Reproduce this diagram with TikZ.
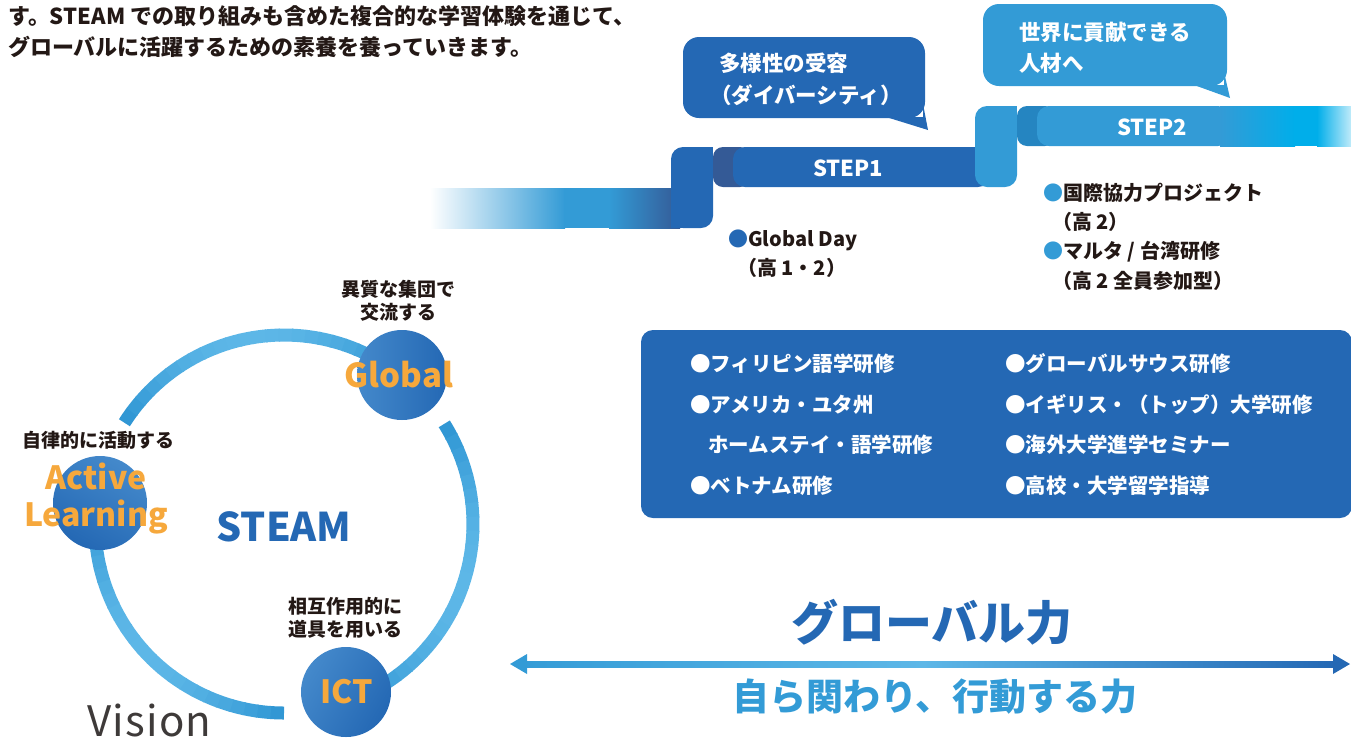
\documentclass[tikz,border=0pt]{standalone}
\usepackage{fontspec}
\setmainfont{Noto Sans CJK JP}
\usetikzlibrary{positioning}
\definecolor{stepdark}{HTML}{2468B4}
\definecolor{steplight}{HTML}{339BD6}
\definecolor{foldone}{HTML}{345A96}
\definecolor{foldtwo}{HTML}{2585C1}
\definecolor{cyanend}{HTML}{00AEEA}
\definecolor{ringlight}{HTML}{5DB7E7}
\definecolor{ringdark}{HTML}{2E95D3}
\definecolor{badgelight}{HTML}{4489CB}
\definecolor{orangetxt}{HTML}{F6A83C}
\definecolor{inktxt}{HTML}{231815}
\definecolor{visiontxt}{HTML}{3E3A39}
\pgfdeclarehorizontalshading{shaftshade}{100bp}{color(0bp)=(steplight); color(25bp)=(steplight); color(50bp)=(ringlight); color(75bp)=(stepdark); color(100bp)=(stepdark)}
\begin{document}
\begin{tikzpicture}[x=1pt,y=-1pt,
		textbox/.style={inner sep=0pt,anchor=west},
		steptxt/.style={inner sep=0pt,text=white,font=\myfontstep},
		badge/.style={circle,inner sep=0pt,left color=badgelight,right color=stepdark},
		badgetxt/.style={inner sep=0pt,text=orangetxt,align=center},
		caption/.style={inner sep=0pt,text=inktxt,align=center,font=\myfontcaption}]
		\newcommand{\myfonthead}{\fontsize{22}{26}\selectfont\bfseries}
		\newcommand{\myfontbubble}{\fontsize{21.5}{26}\selectfont\bfseries}
		\newcommand{\myfontstep}{\fontsize{22}{26}\selectfont\bfseries}
		\newcommand{\myfontitem}{\fontsize{20}{24}\selectfont\bfseries}
		\newcommand{\myfontbox}{\fontsize{20.5}{24}\selectfont\bfseries}
		\newcommand{\myfontcaption}{\fontsize{19}{23}\selectfont\bfseries}
		\useasboundingbox (0,0) rectangle (1351,740);
		%Intro text at the top
		\node[textbox,text=inktxt,font=\myfonthead] (intro1) at (8,16) {す。STEAM での取り組みも含めた複合的な学習体験を通じて、};
		\node[textbox,text=inktxt,font=\myfonthead] (intro2) at (8,47) {グローバルに活躍するための素養を養っていきます。};
		%The stairs ribbon
		\shade[left color=white,right color=steplight] (430,188) rectangle (565,228);
		\fill[steplight] (564,188) rectangle (610,228);
		\shade[left color=steplight,right color=foldone] (609,188) rectangle (680,228);
		%Riser and band of step 1
		\fill[stepdark,rounded corners=12] (671,147) rectangle (713,228);
		\fill[stepdark] (690,147) rectangle (713,170);
		\fill[stepdark] (671,205) rectangle (690,228);
		\fill[foldone,rounded corners=10] (713,147) rectangle (750,187);
		\fill[stepdark,rounded corners=12] (733,147) rectangle (990,187);
		%Riser and band of step 2
		\fill[steplight,rounded corners=12] (975,106) rectangle (1017,187);
		\fill[steplight] (995,106) rectangle (1017,125);
		\fill[foldtwo,rounded corners=10] (1017,106) rectangle (1055,146);
		\fill[steplight,rounded corners=12] (1037,106) rectangle (1230,146);
		\shade[left color=steplight,right color=cyanend] (1220,106) rectangle (1295,146);
		\fill[cyanend] (1294,106) rectangle (1318,146);
		\shade[left color=cyanend,right color=cyanend!25] (1317,106) rectangle (1351,146);
		\coordinate (center1) at (848,168);
		\coordinate (center2) at (1152,127);
		\node[steptxt] (step1) at (center1) {STEP1};
		\node[steptxt] (step2) at (center2) {STEP2};
		%Speech bubbles
		\fill[stepdark,rounded corners=16] (683,37) rectangle (925,118);
		\fill[stepdark] (886,117) -- (928,130) -- (923,104) -- (923,117) -- cycle;
		\node[textbox,text=white,font=\myfontbubble] (bubble1a) at (719,63) {多様性の受容};
		\node[textbox,text=white,font=\myfontbubble] (bubble1b) at (710,95) {（ダイバーシティ）};
		\fill[steplight,rounded corners=16] (983,4) rectangle (1227,86);
		\fill[steplight] (1194,85) -- (1230,98) -- (1224,72) -- (1224,85) -- cycle;
		\node[textbox,text=white,font=\myfontbubble] (bubble2a) at (1019,32) {世界に貢献できる};
		\node[textbox,text=white,font=\myfontbubble] (bubble2b) at (1019,63) {人材へ};
		%Items under the steps
		\node[textbox,text=inktxt,font=\myfontitem] (day) at (728,240) {\textcolor{stepdark}{●}Global Day};
		\node[textbox,text=inktxt,font=\myfontitem] (dayb) at (737,268) {（高 1・2）};
		\node[textbox,text=inktxt,font=\myfontitem] (proj) at (1043,193) {\textcolor{steplight}{●}国際協力プロジェクト};
		\node[textbox,text=inktxt,font=\myfontitem] (projb) at (1052,222) {（高 2）};
		\node[textbox,text=inktxt,font=\myfontitem] (malta) at (1043,252) {\textcolor{steplight}{●}マルタ / 台湾研修};
		\node[textbox,text=inktxt,font=\myfontitem] (maltab) at (1052,281) {（高 2 全員参加型）};
		%Box of programmes
		\fill[stepdark,rounded corners=12] (641,330) rectangle (1352,518);
		\node[textbox,text=white,font=\myfontbox] (prog1) at (690,364) {●フィリピン語学研修};
		\node[textbox,text=white,font=\myfontbox] (prog2) at (690,405) {●アメリカ・ユタ州};
		\node[textbox,text=white,font=\myfontbox] (prog3) at (708,445) {ホームステイ・語学研修};
		\node[textbox,text=white,font=\myfontbox] (prog4) at (690,486) {●ベトナム研修};
		\node[textbox,text=white,font=\myfontbox] (prog5) at (1005,364) {●グローバルサウス研修};
		\node[textbox,text=white,font=\myfontbox] (prog6) at (1005,405) {●イギリス・（トップ）大学研修};
		\node[textbox,text=white,font=\myfontbox] (prog7) at (1005,445) {●海外大学進学セミナー};
		\node[textbox,text=white,font=\myfontbox] (prog8) at (1005,486) {●高校・大学留学指導};
		%The ring
		\coordinate (hub) at (284,524);
		\foreach \s/\e in {-147.6/-51.6,-32/70,90/186.5} {
			\foreach \i in {0,...,23} {
				\pgfmathsetmacro{\aone}{\s+(\e-\s)*\i/24}
				\pgfmathsetmacro{\atwo}{\s+(\e-\s)*(\i+1)/24+0.4}
				\pgfmathsetmacro{\mixval}{100*sin(180*(\i+0.5)/24)}
				\draw[line width=13,ringlight!\mixval!ringdark] (hub) ++(\aone:189) arc[start angle=\aone,end angle=\atwo,radius=189];
			}
		}
		%Badges on the ring
		\node[badge,minimum size=90] (global) at (402,375) {};
		\node[badge,minimum size=94,shading angle=-30] (active) at (100,503) {};
		\node[badge,minimum size=90,shading angle=60] (ict) at (346,692) {};
		\node[badgetxt,font=\fontsize{33}{37}\selectfont\bfseries] (globaltxt) at (399,375) {Global};
		\node[badgetxt,font=\fontsize{32}{37}\selectfont\bfseries] (activetxt) at (96,499) {Active\\Learning};
		\node[badgetxt,font=\fontsize{32}{36}\selectfont\bfseries] (icttxt) at (347,692) {ICT};
		\node[caption] (globalcap) at (398,301) {異質な集団で\\交流する};
		\node[caption] (activecap) at (98,440) {自律的に活動する};
		\node[caption] (ictcap) at (345,618) {相互作用的に\\道具を用いる};
		\node[inner sep=0pt,text=stepdark,font=\fontsize{39.5}{44}\selectfont\bfseries] (steam) at (284,527) {STEAM};
		\node[inner sep=0pt,anchor=base west,text=visiontxt,font=\fontsize{42}{46}\selectfont\addfontfeatures{LetterSpace=3}] (vision) at (87,736) {Vision};
		%Global power and the double arrow
		\node[inner sep=0pt,text=stepdark,font=\fontsize{47}{52}\selectfont\bfseries] (power) at (932,622) {グローバル力};
		\coordinate (arrowL) at (510,664);
		\coordinate (arrowR) at (1350,664);
		\shade[shading=shaftshade] (arrowL) ++(14,-3) rectangle ++(812,6);
		\fill[steplight] (arrowL) -- ++(17,-10) -- ++(0,20) -- cycle;
		\fill[stepdark] (arrowR) -- ++(-17,-10) -- ++(0,20) -- cycle;
		\node[inner sep=0pt,text=steplight,font=\fontsize{37}{42}\selectfont\bfseries] (action) at (935,697) {自ら関わり、行動する力};
\end{tikzpicture}
\end{document}
